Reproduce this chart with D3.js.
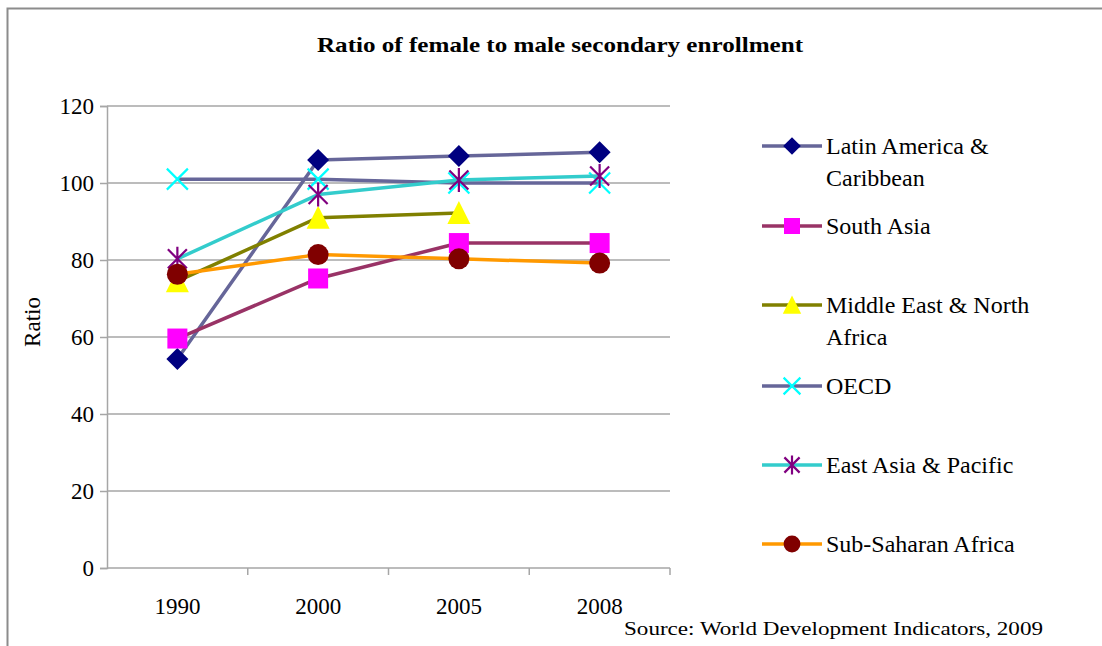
<!DOCTYPE html>
<html>
<head>
<meta charset="utf-8">
<script src="https://cdn.jsdelivr.net/npm/d3@7"></script>
<style>
  body { margin: 0; background: #fff; }
  svg { display: block; font-family: "Liberation Serif", "Times New Roman", serif; }
</style>
</head>
<body>
<svg id="chart" width="1102" height="646"></svg>
<script>
// data
var years = ["1990", "2000", "2005", "2008"]
var seriesNames = ["Latin America & Caribbean", "South Asia", "Middle East & North Africa", "OECD", "East Asia & Pacific", "Sub-Saharan Africa"]
var latinAmerica = [54.3, 106, 107, 108]
var southAsia = [59.6, 75.2, 84.4, 84.4]
var middleEast = [74.5, 91, 92.2, null]
var oecd = [101, 101, 100, 100]
var eastAsia = [80.3, 97, 100.8, 101.8]
var subSaharan = [76.3, 81.4, 80.3, 79.2]
var yTicks = [0, 20, 40, 60, 80, 100, 120]

var legendLines = [["Latin America &", "Caribbean"], ["South Asia"], ["Middle East & North", "Africa"], ["OECD"], ["East Asia & Pacific"], ["Sub-Saharan Africa"]]

var series = [
    { name: seriesNames[0], values: latinAmerica, line: "#666699", marker: "diamond", fill: "#000080" },
    { name: seriesNames[1], values: southAsia, line: "#993366", marker: "square", fill: "#ff00ff" },
    { name: seriesNames[2], values: middleEast, line: "#808000", marker: "triangle", fill: "#ffff00" },
    { name: seriesNames[3], values: oecd, line: "#666699", marker: "x", fill: "#00ffff" },
    { name: seriesNames[4], values: eastAsia, line: "#33cccc", marker: "star", fill: "#800080" },
    { name: seriesNames[5], values: subSaharan, line: "#ff9900", marker: "circle", fill: "#800000" }
]

var dimensions = {
    width: 1102,
    height: 646,
    margin: { top: 106, bottom: 78, left: 107, right: 432 }
}

var svg = d3.select("#chart")

// outer frame
svg.append("path")
   .attr("d", "M7.5,660 V8.5 H1110")
   .attr("fill", "none")
   .attr("stroke", "#8c8c8c")
   .attr("stroke-width", 2)

var xScale = d3.scaleBand()
               .domain(years)
               .range([dimensions.margin.left, dimensions.width - dimensions.margin.right])

var yScale = d3.scaleLinear()
               .domain([0, 120])
               .range([dimensions.height - dimensions.margin.bottom, dimensions.margin.top])

var gridColor = "#a6a6a6"

// gridlines
svg.append("g")
   .selectAll("line")
   .data(yTicks.filter(d => d > 0))
   .enter()
   .append("line")
   .attr("x1", dimensions.margin.left)
   .attr("x2", dimensions.width - dimensions.margin.right)
   .attr("y1", d => yScale(d))
   .attr("y2", d => yScale(d))
   .attr("stroke", gridColor)
   .attr("stroke-width", 1.5)

// y axis
var yAxis = svg.append("g")
               .attr("transform", `translate(${dimensions.margin.left},0)`)
               .call(d3.axisLeft(yScale).tickValues(yTicks).tickSize(7).tickPadding(6))
yAxis.select(".domain").attr("stroke", gridColor).attr("stroke-width", 1.5)
yAxis.selectAll(".tick line").attr("stroke", gridColor).attr("stroke-width", 1.5)
yAxis.selectAll("text")
     .attr("fill", "#000")
     .style("font-size", "23px")
     .style("font-family", "Liberation Serif")

// x axis with ticks between categories
var baseY = yScale(0)
var xAxis = svg.append("g")
xAxis.append("line")
     .attr("x1", dimensions.margin.left)
     .attr("x2", dimensions.width - dimensions.margin.right)
     .attr("y1", baseY)
     .attr("y2", baseY)
     .attr("stroke", gridColor)
     .attr("stroke-width", 1.5)
xAxis.selectAll(".sep")
     .data(years.slice(1).concat(["end"]))
     .enter()
     .append("line")
     .attr("x1", (d, i) => xScale(years[0]) + xScale.bandwidth() * (i + 1))
     .attr("x2", (d, i) => xScale(years[0]) + xScale.bandwidth() * (i + 1))
     .attr("y1", baseY)
     .attr("y2", baseY + 7)
     .attr("stroke", gridColor)
     .attr("stroke-width", 1.5)
xAxis.selectAll(".lbl")
     .data(years)
     .enter()
     .append("text")
     .attr("x", d => xScale(d) + xScale.bandwidth() / 2)
     .attr("y", baseY + 46)
     .attr("text-anchor", "middle")
     .style("font-size", "23px")
     .text(d => d)

// y axis title
svg.append("text")
   .attr("transform", "translate(40,322) rotate(-90)")
   .attr("text-anchor", "middle")
   .style("font-size", "23px")
   .text("Ratio")

// chart title
svg.append("text")
   .attr("x", 560)
   .attr("y", 52)
   .attr("text-anchor", "middle")
   .attr("textLength", 486)
   .attr("lengthAdjust", "spacingAndGlyphs")
   .style("font-size", "22px")
   .style("font-weight", "bold")
   .text("Ratio of female to male secondary enrollment")

// source note
svg.append("text")
   .attr("x", 624)
   .attr("y", 635)
   .attr("textLength", 419)
   .attr("lengthAdjust", "spacingAndGlyphs")
   .style("font-size", "19px")
   .text("Source: World Development Indicators, 2009")

function drawMarker(g, type, fill, x, y, s) {
    if (type === "diamond") {
        g.append("path")
         .attr("d", `M${x},${y - 11 * s} L${x + 11 * s},${y} L${x},${y + 11 * s} L${x - 11 * s},${y} Z`)
         .attr("fill", fill)
    } else if (type === "square") {
        g.append("rect")
         .attr("x", x - 10 * s).attr("y", y - 10 * s)
         .attr("width", 20 * s).attr("height", 20 * s)
         .attr("fill", fill)
    } else if (type === "triangle") {
        g.append("path")
         .attr("d", `M${x},${y - 12 * s} L${x + 11.5 * s},${y + 11 * s} L${x - 11.5 * s},${y + 11 * s} Z`)
         .attr("fill", fill)
    } else if (type === "circle") {
        g.append("circle")
         .attr("cx", x).attr("cy", y).attr("r", 10.5 * s)
         .attr("fill", fill)
    } else if (type === "x") {
        var h = 10.5 * s
        g.append("path")
         .attr("d", `M${x - h},${y - h} L${x + h},${y + h} M${x - h},${y + h} L${x + h},${y - h}`)
         .attr("stroke", fill).attr("stroke-width", 2.2).attr("fill", "none")
    } else if (type === "star") {
        var h = 9.5 * s
        g.append("path")
         .attr("d", `M${x - h},${y - h} L${x + h},${y + h} M${x - h},${y + h} L${x + h},${y - h} M${x},${y - 12 * s} L${x},${y + 12 * s}`)
         .attr("stroke", fill).attr("stroke-width", 2.2).attr("fill", "none")
    }
}

var line = d3.line()
             .defined(d => d.value !== null)
             .x(d => xScale(d.year) + xScale.bandwidth() / 2)
             .y(d => yScale(d.value))

var plot = svg.append("g")

series.forEach(s => {
    var pts = s.values.map((v, i) => ({ year: years[i], value: v }))
    var g = plot.append("g")
    g.append("path")
     .attr("d", line(pts))
     .attr("fill", "none")
     .attr("stroke", s.line)
     .attr("stroke-width", 3.5)
     .attr("stroke-linejoin", "round")
    pts.filter(p => p.value !== null).forEach(p => {
        drawMarker(g, s.marker, s.fill, xScale(p.year) + xScale.bandwidth() / 2, yScale(p.value), 1)
    })
})

// legend
var legend = svg.append("g")
var legendY = [146, 226, 305, 386, 465, 544]
series.forEach((s, i) => {
    var y = legendY[i]
    legend.append("line")
          .attr("x1", 762).attr("x2", 822)
          .attr("y1", y).attr("y2", y)
          .attr("stroke", s.line)
          .attr("stroke-width", 3.5)
    drawMarker(legend, s.marker, s.fill, 792, y, 0.8)
    legendLines[i].forEach((t, j) => {
        legend.append("text")
              .attr("x", 826)
              .attr("y", y + 8 + j * 32)
              .style("font-size", "24px")
              .text(t)
    })
})
</script>
</body>
</html>
